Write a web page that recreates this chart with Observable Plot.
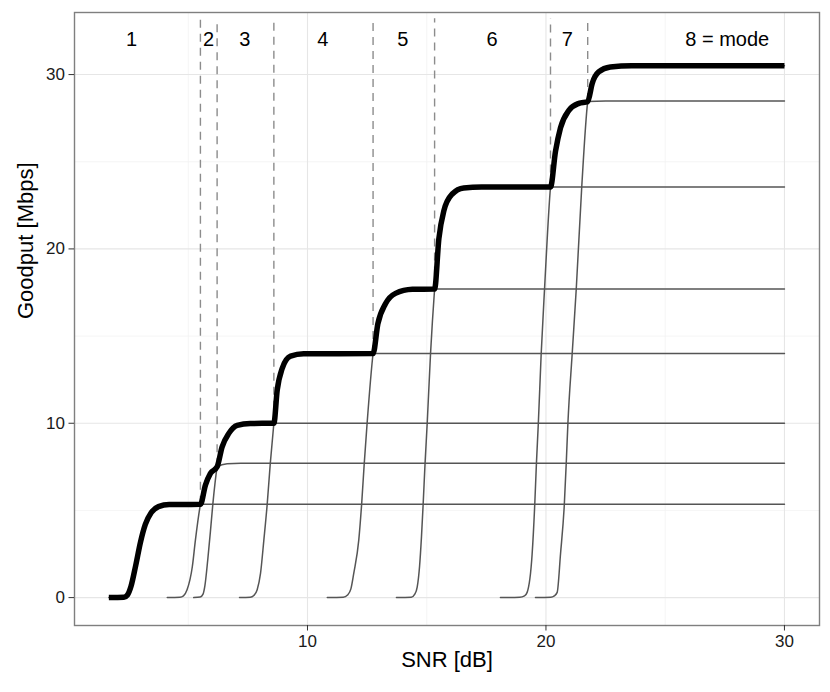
<!DOCTYPE html>
<html>
<head>
<meta charset="utf-8">
<script src="https://cdn.jsdelivr.net/npm/d3@7"></script>
<script src="https://cdn.jsdelivr.net/npm/@observablehq/plot@0.6"></script>
<style>
  html, body { margin: 0; padding: 0; background: #fff; }
  #chart svg { display: block; }
</style>
</head>
<body>
<div id="chart"></div>
<script>
// ---- Data ----
// Goodput curve for each transmission mode (SNR in dB, goodput in Mbps)
const snr1 = [1.67, 2.3, 2.45, 2.6, 2.79, 3.0, 3.2, 3.45, 3.75, 4.2, 5.51, 30];
const gp1  = [0, 0.02, 0.15, 0.65, 1.8, 3.2, 4.2, 4.88, 5.22, 5.34, 5.35, 5.35];

const snr2 = [4.12, 4.65, 4.8, 4.95, 5.17, 5.3, 5.51, 5.72, 5.93, 6.21, 6.63, 7.2, 30];
const gp2  = [0, 0.02, 0.1, 0.45, 1.77, 3.3, 5.35, 6.45, 7.12, 7.5, 7.68, 7.7, 7.7];

const snr3 = [5.23, 5.5, 5.62, 5.7, 5.82, 5.93, 6.03, 6.21, 6.42, 6.7, 7.05, 7.6, 8.59, 30];
const gp3  = [0, 0.03, 0.2, 0.7, 2.2, 3.8, 5.35, 7.5, 8.65, 9.42, 9.88, 9.99, 10.0, 10.0];

const snr4 = [7.15, 7.6, 7.75, 7.89, 8.03, 8.17, 8.31, 8.44, 8.59, 8.73, 8.94, 9.29, 9.84, 12.75, 30];
const gp4  = [0, 0.02, 0.12, 0.45, 1.39, 3.3, 5.35, 7.7, 10.0, 11.9, 13.15, 13.85, 13.98, 14.0, 14.0];

const snr5 = [10.83, 11.5, 11.68, 11.82, 11.94, 12.15, 12.27, 12.38, 12.5, 12.75, 12.95, 13.27, 13.69, 14.4, 15.33, 30];
const gp5  = [0, 0.02, 0.15, 0.5, 1.39, 3.3, 5.35, 7.7, 10.0, 14.0, 15.7, 16.85, 17.45, 17.68, 17.7, 17.7];

const snr6 = [13.73, 14.35, 14.5, 14.6, 14.7, 14.78, 14.85, 14.93, 15.02, 15.16, 15.33, 15.51, 15.72, 16.07, 16.55, 17.3, 20.19, 30];
const gp6  = [0, 0.02, 0.2, 0.6, 1.8, 3.5, 5.35, 7.7, 10.0, 14.0, 17.7, 20.6, 22.2, 23.15, 23.5, 23.55, 23.55, 23.55];

const snr7 = [18.09, 18.9, 19.1, 19.21, 19.42, 19.53, 19.6, 19.68, 19.8, 19.94, 20.19, 20.4, 20.61, 20.96, 21.38, 21.75, 22.5, 30];
const gp7  = [0, 0.02, 0.1, 0.3, 2.5, 5.35, 7.7, 10.0, 14.0, 17.7, 23.55, 25.6, 26.95, 27.95, 28.35, 28.45, 28.48, 28.48];

const snr8 = [19.56, 20.2, 20.35, 20.47, 20.61, 20.77, 20.85, 20.92, 21.1, 21.27, 21.5, 21.75, 21.94, 22.21, 22.7, 23.6, 30];
const gp8  = [0, 0.02, 0.1, 0.3, 2.5, 5.35, 7.7, 10.0, 14.0, 17.7, 23.55, 28.45, 29.5, 30.15, 30.43, 30.5, 30.5];

// SNR where the best mode switches (dashed lines) and goodput at that point
const switchSnr = [5.51, 6.21, 8.59, 12.75, 15.33, 20.19, 21.75];
const switchGp  = [5.35, 7.5, 10.0, 14.0, 17.7, 23.55, 28.45];

// Region labels along the top
const regionLabels = ["1", "2", "3", "4", "5", "6", "7", "8 = mode"];
const labelSnr     = [2.62, 5.85, 7.37, 10.64, 14.0, 17.74, 20.89, 27.6];
const labelGp      = 32;

const xTicks = [10, 20, 30];
const yTicks = [0, 10, 20, 30];
const xMinor = [5, 15, 25];
const yMinor = [5, 15, 25];

// ---- Build tables ----
const snrs = [snr1, snr2, snr3, snr4, snr5, snr6, snr7, snr8];
const gps  = [gp1, gp2, gp3, gp4, gp5, gp6, gp7, gp8];
const curves = [];
snrs.forEach((s, i) => s.forEach((x, j) => curves.push({mode: i + 1, snr: x, gp: gps[i][j]})));

// Envelope (best mode): each mode between its switching points
const envelope = [];
snrs.forEach((s, i) => {
  const lo = i === 0 ? -Infinity : switchSnr[i - 1];
  const hi = i === snrs.length - 1 ? Infinity : switchSnr[i];
  s.forEach((x, j) => {
    if (x >= lo && x <= hi) {
      if (i > 0 && x === lo) return; // shared with previous segment
      envelope.push({snr: x, gp: gps[i][j]});
    }
  });
});

const switches = switchSnr.map((x, i) => ({snr: x, gp: switchGp[i]}));
const labels = regionLabels.map((t, i) => ({text: t, snr: labelSnr[i], gp: labelGp}));

const xDomain = [0.23, 31.47];
const yDomain = [-1.6, 33.56];

const chart = Plot.plot({
  width: 830,
  height: 692,
  marginLeft: 74,
  marginRight: 11,
  marginTop: 12,
  marginBottom: 67,
  style: {fontFamily: "'Liberation Sans', Arial, Helvetica, sans-serif", background: "#fff", color: "#1a1a1a"},
  x: {domain: xDomain},
  y: {domain: yDomain},
  marks: [
    Plot.gridX(xMinor, {stroke: "#f2f2f2", strokeOpacity: 1, strokeWidth: 0.8}),
    Plot.gridY(yMinor, {stroke: "#f2f2f2", strokeOpacity: 1, strokeWidth: 0.8}),
    Plot.gridX(xTicks, {stroke: "#e6e6e6", strokeOpacity: 1, strokeWidth: 1.1}),
    Plot.gridY(yTicks, {stroke: "#e6e6e6", strokeOpacity: 1, strokeWidth: 1.1}),
    Plot.ruleX(switches, {x: "snr", y1: "gp", y2: 33.2, stroke: "#8c8c8c", strokeWidth: 1.4, strokeDasharray: "8,6"}),
    Plot.line(curves, {x: "snr", y: "gp", z: "mode", stroke: "#555", strokeWidth: 1.5, curve: "monotone-x"}),
    Plot.line(envelope, {x: "snr", y: "gp", stroke: "#000", strokeWidth: 5.5, curve: "monotone-x", strokeLinecap: "butt", strokeLinejoin: "round"}),
    Plot.text(labels, {x: "snr", y: "gp", text: "text", fontSize: 20, fill: "#000"}),
    Plot.frame({stroke: "#7f7f7f", strokeWidth: 1.4}),
    Plot.axisX(xTicks, {tickSize: 5.5, tickPadding: 4, fontSize: 17, label: null, stroke: "#333"}),
    Plot.axisY(yTicks, {tickSize: 5.5, tickPadding: 4, fontSize: 17, label: null, stroke: "#333"}),
    Plot.text(["SNR [dB]"], {frameAnchor: "bottom", dy: 41, fontSize: 22, fill: "#000"}),
    Plot.text(["Goodput [Mbps]"], {frameAnchor: "left", dx: -49, rotate: -90, fontSize: 22, fill: "#000"})
  ]
});
document.getElementById("chart").appendChild(chart);
</script>
</body>
</html>
